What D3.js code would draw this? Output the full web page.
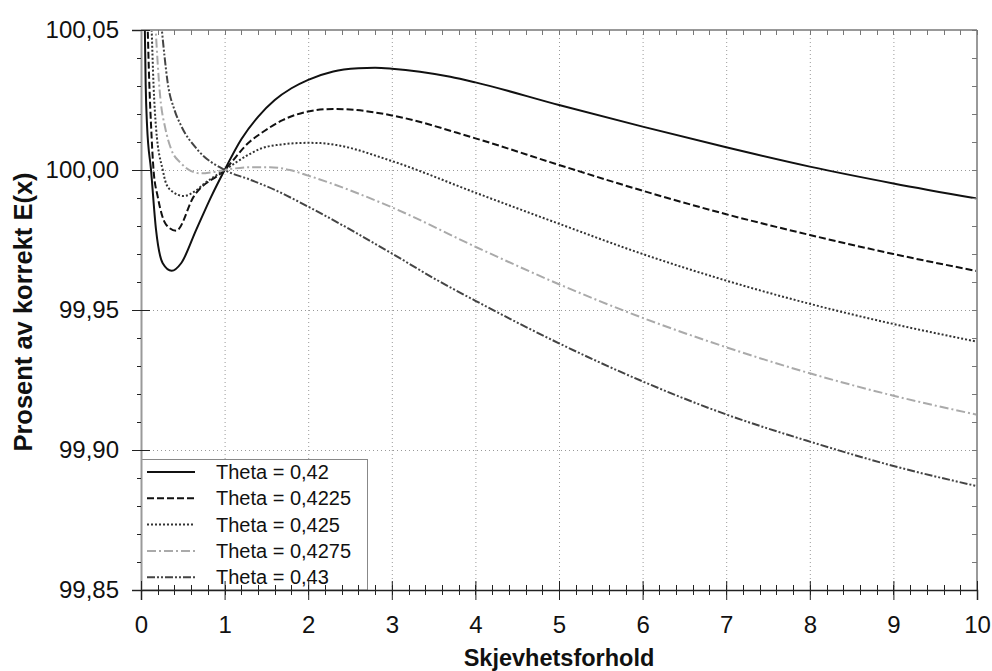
<!DOCTYPE html>
<html>
<head>
<meta charset="utf-8">
<script src="https://cdn.jsdelivr.net/npm/d3@7"></script>
<style>
  html, body { margin: 0; padding: 0; background: #fff; }
  svg { display: block; font-family: "Liberation Sans", Arial, sans-serif; }
</style>
</head>
<body>
<svg id="chart" width="992" height="671"></svg>
<script>
// ---- data ----
const seriesNames = ["Theta = 0,42", "Theta = 0,4225", "Theta = 0,425", "Theta = 0,4275", "Theta = 0,43"];

const x042 = [0.045,0.056,0.072,0.12,0.18,0.26,0.367,0.48,0.66,0.84,1.0,1.2,1.4,1.6,1.8,2.0,2.3,2.6,2.8,3.0,3.7,4.0,5.0,6.0,7.0,8.0,9.0,10];
const y042 = [100.052,100.0304,100.0161,100.0,99.9786,99.9667,99.9640,99.9667,99.9786,99.9905,100.0,100.011,100.019,100.025,100.0292,100.0322,100.0352,100.0363,100.0365,100.0362,100.0333,100.0313,100.0232,100.0155,100.0081,100.0012,99.9952,99.9898];

const x04225 = [0.078,0.10,0.12,0.15,0.2,0.30,0.42,0.63,1.0,1.3,1.435,1.7,2.0,2.3,2.58,3.0,4.0,5.0,6,7,8,9,10];
const y04225 = [100.053,100.0304,100.0161,100.0,99.9905,99.9805,99.9783,99.9905,100.0,100.0101,100.0131,100.0179,100.0209,100.0218,100.0214,100.0195,100.0113,100.0018,99.9926,99.9842,99.9768,99.9700,99.9639];

const x0425 = [0.125,0.15,0.18,0.26,0.30,0.38,0.51,0.65,0.76,1.0,1.3,1.435,1.62,2.0,2.15,2.34,3.0,4.0,5.0,6,7,8,9,10];
const y0425 = [100.053,100.0304,100.0150,100.0,99.9952,99.9922,99.9907,99.9925,99.9952,100.0,100.0057,100.0077,100.0089,100.0097,100.0096,100.0089,100.0032,99.9919,99.9808,99.9700,99.9605,99.9522,99.9450,99.9387];

const x04275 = [0.17,0.23,0.29,0.36,0.48,0.6,0.72,0.85,1.0,1.3,1.54,1.78,2.0,3.0,4.0,5.0,6,7,8,9,10];
const y04275 = [100.053,100.026,100.0150,100.0075,100.0024,99.9996,99.9988,99.9992,100.0,100.001,100.001,100.0,99.998,99.9867,99.9726,99.9592,99.9472,99.9367,99.9274,99.9194,99.9126];

const x043 = [0.24,0.28,0.32,0.4,0.48,0.68,1.0,1.3,1.6,2.0,3.0,3.54,4.0,5.0,6,7,8,9,10];
const y043 = [100.053,100.041,100.031,100.0215,100.0158,100.0071,100.0,99.9966,99.9929,99.9869,99.9702,99.9607,99.9533,99.9381,99.9245,99.9127,99.9030,99.8943,99.8871];

const xTicks = [0,1,2,3,4,5,6,7,8,9,10];
const yTicks = [99.85,99.90,99.95,100.00,100.05];
const xTitle = "Skjevhetsforhold";
const yTitle = "Prosent av korrekt E(x)";

// ---- styling ----
const styles = [
  { color: "#111", dash: null, width: 2 },
  { color: "#111", dash: "7,3", width: 2 },
  { color: "#333", dash: "2,2", width: 2 },
  { color: "#aaa", dash: "9,3,2,3", width: 2 },
  { color: "#444", dash: "8,2,2,2,2,2", width: 2 }
];

const series = [
  { name: seriesNames[0], xs: x042, ys: y042 },
  { name: seriesNames[1], xs: x04225, ys: y04225 },
  { name: seriesNames[2], xs: x0425, ys: y0425 },
  { name: seriesNames[3], xs: x04275, ys: y04275 },
  { name: seriesNames[4], xs: x043, ys: y043 }
];

const L = 141, R = 977, T = 30, B = 590;
const svg = d3.select("#chart");
const x = d3.scaleLinear().domain([0, 10]).range([L, R]);
const y = d3.scaleLinear().domain([99.85, 100.05]).range([B, T]);
const fmtY = v => d3.format(".2f")(v).replace(".", ",");

svg.append("defs").append("clipPath").attr("id", "clip")
  .append("rect").attr("x", L).attr("y", T).attr("width", R - L).attr("height", B - T);

// grid
const grid = svg.append("g").attr("stroke", "#999").attr("stroke-width", 1).attr("stroke-dasharray", "1,3");
xTicks.filter(t => t > 0 && t < 10).forEach(t => {
  grid.append("line").attr("x1", x(t) + 0.5).attr("x2", x(t) + 0.5).attr("y1", T).attr("y2", B);
});
yTicks.filter(t => t > 99.86 && t < 100.04).forEach(t => {
  grid.append("line").attr("x1", L).attr("x2", R).attr("y1", Math.round(y(t)) + 0.5).attr("y2", Math.round(y(t)) + 0.5);
});

// curves
const line = d3.line().x(d => x(d[0])).y(d => y(d[1])).curve(d3.curveMonotoneX);
const curves = svg.append("g").attr("clip-path", "url(#clip)");
series.forEach((s, i) => {
  const pts = s.xs.map((xv, j) => [xv, s.ys[j]]);
  curves.append("path").datum(pts)
    .attr("d", line)
    .attr("fill", "none")
    .attr("stroke", styles[i].color)
    .attr("stroke-width", styles[i].width)
    .attr("stroke-dasharray", styles[i].dash)
    .attr("stroke-linejoin", "round");
});

// frame top / right (gray with inward ticks)
const minorX = d3.range(0, 10.001, 0.2);
const minorY = d3.range(99.85, 100.0501, 0.01);
const frame = svg.append("g").attr("stroke", "#999").attr("stroke-width", 2);
frame.append("line").attr("x1", L).attr("x2", R).attr("y1", T).attr("y2", T);
frame.append("line").attr("x1", R).attr("x2", R).attr("y1", T).attr("y2", B);
const frameTicks = svg.append("g").attr("stroke", "#777").attr("stroke-width", 1);
minorX.forEach(t => frameTicks.append("line").attr("x1", Math.round(x(t)) + 0.5).attr("x2", Math.round(x(t)) + 0.5).attr("y1", T).attr("y2", T + 5));
minorY.forEach(t => frameTicks.append("line").attr("x1", R - 5).attr("x2", R).attr("y1", Math.round(y(t)) + 0.5).attr("y2", Math.round(y(t)) + 0.5));

// legend
const lg = svg.append("g");
lg.append("rect").attr("x", L + 0.5).attr("y", 459.5).attr("width", 226).attr("height", B - 459.5)
  .attr("fill", "#fff").attr("stroke", "#888").attr("stroke-width", 1);
series.forEach((s, i) => {
  const yy = 472 + i * 26.3;
  lg.append("line").attr("x1", 147).attr("x2", 195).attr("y1", yy).attr("y2", yy)
    .attr("stroke", styles[i].color).attr("stroke-width", styles[i].width)
    .attr("stroke-dasharray", styles[i].dash);
  lg.append("text").attr("x", 216).attr("y", yy + 7).attr("font-size", 20).attr("fill", "#111").text(s.name);
});

// left axis (y)
const yAxis = d3.axisLeft(y).tickValues(yTicks).tickFormat(fmtY).tickSize(9).tickPadding(13);
const gy = svg.append("g").attr("transform", `translate(${L},0)`).call(yAxis);
gy.select(".domain").attr("stroke", "#999").attr("stroke-width", 2);
gy.selectAll(".tick line").attr("stroke", "#222").attr("x2", -9).attr("x1", 9);
gy.selectAll(".tick text").attr("font-size", 24).attr("fill", "#111")
  .attr("font-family", "'Liberation Sans', Arial, sans-serif");
const gyMinor = svg.append("g").attr("stroke", "#222").attr("stroke-width", 1);
minorY.forEach(t => gyMinor.append("line").attr("x1", L - 4).attr("x2", L).attr("y1", Math.round(y(t)) + 0.5).attr("y2", Math.round(y(t)) + 0.5));

// bottom axis (x)
const xAxis = d3.axisBottom(x).tickValues(xTicks).tickFormat(d3.format("d")).tickSize(10).tickPadding(16);
const gx = svg.append("g").attr("transform", `translate(0,${B})`).call(xAxis);
gx.select(".domain").attr("stroke", "#222").attr("stroke-width", 1.5);
gx.selectAll(".tick line").attr("stroke", "#222").attr("y1", -9).attr("y2", 10);
gx.selectAll(".tick text").attr("font-size", 24).attr("fill", "#111")
  .attr("font-family", "'Liberation Sans', Arial, sans-serif");
const gxMinor = svg.append("g").attr("stroke", "#222").attr("stroke-width", 1);
minorX.forEach(t => gxMinor.append("line").attr("x1", Math.round(x(t)) + 0.5).attr("x2", Math.round(x(t)) + 0.5).attr("y1", B - 5).attr("y2", B + 5));

// titles
svg.append("text").attr("x", (L + R) / 2).attr("y", 666).attr("text-anchor", "middle")
  .attr("font-size", 23.5).attr("font-weight", "bold").attr("fill", "#111").text(xTitle);
svg.append("text").attr("transform", `translate(32,${(T + B) / 2 + 2}) rotate(-90)`).attr("text-anchor", "middle")
  .attr("font-size", 25.5).attr("font-weight", "bold").attr("fill", "#111").text(yTitle);
</script>
</body>
</html>
